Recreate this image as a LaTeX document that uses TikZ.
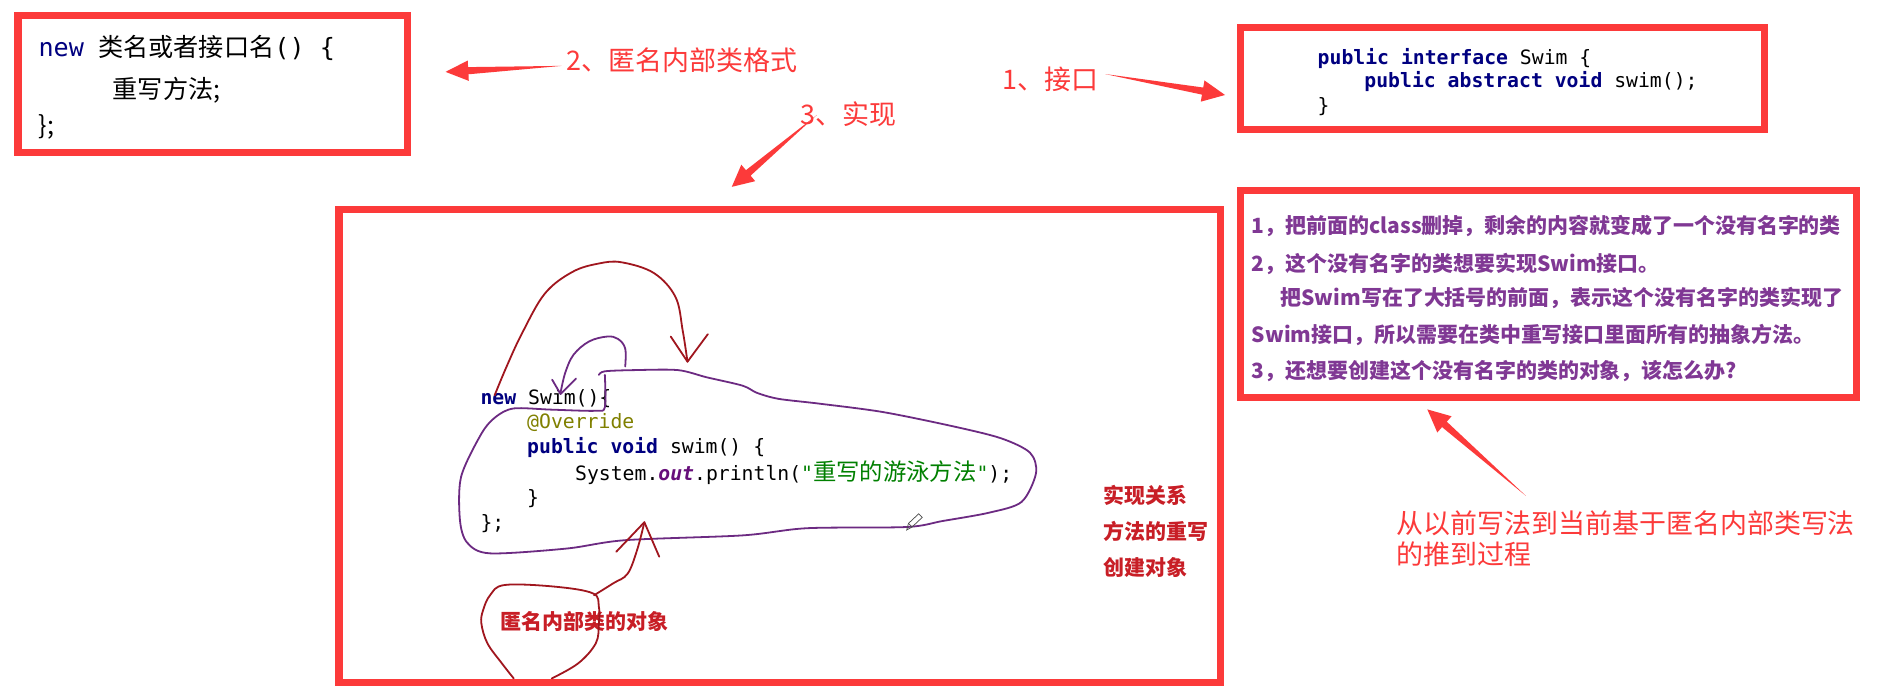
\documentclass[tikz,border=0pt]{standalone}
\usepackage{fontspec}
\setmainfont{Noto Sans CJK SC}
\setmonofont{DejaVu Sans Mono}
\newfontfamily\cjk{Noto Sans CJK SC}
\usetikzlibrary{calc}
\definecolor{boxred}{RGB}{252,58,58}
\definecolor{darkred}{RGB}{200,30,38}
\definecolor{penred}{RGB}{160,22,30}
\definecolor{penpurple}{RGB}{108,42,130}
\definecolor{txtpurple}{RGB}{128,56,148}
\definecolor{navy}{RGB}{0,0,128}
\definecolor{olive}{RGB}{128,128,0}
\definecolor{strgreen}{RGB}{0,128,0}
\definecolor{fieldpurple}{RGB}{102,14,122}
\newcommand{\kw}[1]{{\bfseries\color{navy}#1}}
\newcommand{\taparrow}[5]{%
  \coordinate (hb) at ($(#2)!#3!(#1)$);
  \fill[boxred] (#1) -- ($(hb)!#5!90:(#2)$) -- ($(hb)!#4!90:(#2)$) -- (#2)
    -- ($(hb)!#4!-90:(#2)$) -- ($(hb)!#5!-90:(#2)$) -- cycle;}
\begin{document}
\begin{tikzpicture}[x=1pt,y=-1pt,
  box/.style={draw=boxred, line width=6pt, inner sep=0pt, outer sep=0pt},
  lbl/.style={anchor=west, inner sep=0pt, text=boxred, font=\fontsize{22.5}{27}\selectfont},
  code/.style={anchor=west, inner sep=0pt, font=\ttfamily\fontsize{16.5}{20}\selectfont},
  atext/.style={anchor=west, inner sep=0pt, font=\fontsize{21}{25}\selectfont},
  dlabel/.style={anchor=west, inner sep=0pt, text=darkred, font=\bfseries\fontsize{17.5}{21}\selectfont},
  ptext/.style={anchor=west, inner sep=0pt, text=txtpurple, font=\bfseries\fontsize{17.5}{21}\selectfont},
  pen/.style={line width=1.5pt, line cap=round, line join=round}]
\useasboundingbox (0,0) rectangle (1568,579);
\fill[white] (0,0) rectangle (1568,579);

% boxes
\node[box, minimum width=325pt, minimum height=114pt] (boxA) at (177.5,70) {};
\node[box, minimum width=437pt, minimum height=85pt] (boxB) at (1254.5,65.5) {};
\node[box, minimum width=736pt, minimum height=395pt] (boxC) at (651,372.5) {};
\node[box, minimum width=514pt, minimum height=173pt] (boxD) at (1293,245.5) {};

% box A text
\node[atext] (a1) at (32,40) {{\ttfamily\color{navy}new}\hspace{12pt}类名或者接口名{\ttfamily() \{}};
\node[atext] (a2) at (94,75) {重写方法;};
\node[atext] (a3) at (32,106) {\};};

% box B code
\node[code] (b1) at (1100,49) {\kw{public} \kw{interface} Swim \{};
\node[code] (b2) at (1139,68) {\kw{public} \kw{abstract} \kw{void} swim();};
\node[code] (b3) at (1100,89) {\}};

% box C code
\node[code] (c1) at (401,333) {\kw{new} Swim()\{};
\node[code, text=olive] (c2) at (440,353) {@Override};
\node[code] (c3) at (440,374) {\kw{public} \kw{void} swim() \{};
\node[code] (c4) at (480,395) {System.{\bfseries\itshape\color{fieldpurple}out}.println({\color{strgreen}"{\cjk\fontsize{19.5}{20}\selectfont 重写的游泳方法}"});};
\node[code] (c5) at (440,416) {\}};
\node[code] (c6) at (401,437) {\};};

\node[dlabel] (r1) at (921,414) {实现关系};
\node[dlabel] (r2) at (921,444) {方法的重写};
\node[dlabel] (r3) at (921,474) {创建对象};
\node[dlabel] (obj) at (418,519) {匿名内部类的对象};

% box D text
\node[ptext] (d1) at (1045,189) {1，把前面的class删掉，剩余的内容就变成了一个没有名字的类};
\node[ptext] (d2) at (1045,220) {2，这个没有名字的类想要实现Swim接口。};
\node[ptext] (d3) at (1069,249) {把Swim写在了大括号的前面，表示这个没有名字的类实现了};
\node[ptext] (d4) at (1045,280) {Swim接口，所以需要在类中重写接口里面所有的抽象方法。};
\node[ptext] (d5) at (1045,310) {3，还想要创建这个没有名字的类的对象，该怎么办?};

% labels
\node[lbl] (l2) at (473,50) {2、匿名内部类格式};
\node[lbl] (l3) at (668,95) {3、实现};
\node[lbl] (l1) at (837,66) {1、接口};
\node[lbl, align=left, text width=400pt] (l4) at (1166,449.5) {从以前写法到当前基于匿名内部类写法\\[-1pt]的推到过程};

% arrows
\coordinate (s2) at (469,55);  \coordinate (t2) at (372,60);
\coordinate (s3) at (682,96);  \coordinate (t3) at (611,156);
\coordinate (s1) at (922.6,61.8); \coordinate (t1) at (1022.8,79.3);
\coordinate (s4) at (1274,414); \coordinate (t4) at (1191.7,341.8);
\taparrow{s2}{t2}{19pt}{8.5pt}{3pt}
\taparrow{s3}{t3}{18pt}{9pt}{3pt}
\taparrow{s1}{t1}{19pt}{9pt}{3pt}
\taparrow{s4}{t4}{19pt}{9pt}{3pt}

% hand-drawn red arc
\draw[pen, penred] plot[smooth, tension=0.6] coordinates {(413,330) (423,306) (436,278) (455,245) (478,227) (500,220) (519,219) (546,228) (564,248) (570,276) (574,302)};
\draw[pen, penred] (560,281) -- (574,302) -- (591,279);

% small purple loop
\draw[pen, penpurple] plot[smooth, tension=0.6] coordinates {(522,306) (522,291) (516,283) (507,281) (492,285) (479,296) (472,311) (468,328)};
\draw[pen, penpurple] (461,317) -- (468,329) -- (481,316);

% big purple blob
\draw[pen, penpurple] plot[smooth, tension=0.5] coordinates {(500,313) (505,310) (530,309) (566,309) (590,315) (620,322) (632,328) (650,333) (684,337) (737,344) (796,356) (836,366) (860,378) (865,395) (853,419) (826,428) (787,435) (757,440) (674,441) (620,447) (522,451) (473,458) (409,462) (390,453) (384,434) (385,398) (402,362) (414,348) (429,341) (460,342) (497,343) (505,340) (505,313)};

% pencil cursor
\draw[line width=0.6pt, black!70] (757,442.5) -- (758.5,437) -- (767,429) -- (770,432) -- (761.5,440) -- cycle;
\draw[line width=0.6pt, black!70] (758.5,437) -- (761.5,440);

% red arrow from circle to blob
\coordinate (ctop) at (496,497);
\draw[pen, penred] plot[smooth, tension=0.6] coordinates {(ctop) (512,487) (524,479) (532,459) (538,436)};
\draw[pen, penred] (514.6,460.6) -- (538,436) -- (550.4,464.8);

% red circle around label
\draw[pen, penred] plot[smooth, tension=0.6] coordinates {(428.9,566.4) (419,553.8) (406.9,537) (401.9,520.4) (403.4,509.3) (409.3,496.8) (421.5,488.4) (463.2,489.8) (495,495.4) (500,506.5) (500,520.4) (497.5,537) (482.8,553.8) (460.7,566.4)};
\end{tikzpicture}
\end{document}
